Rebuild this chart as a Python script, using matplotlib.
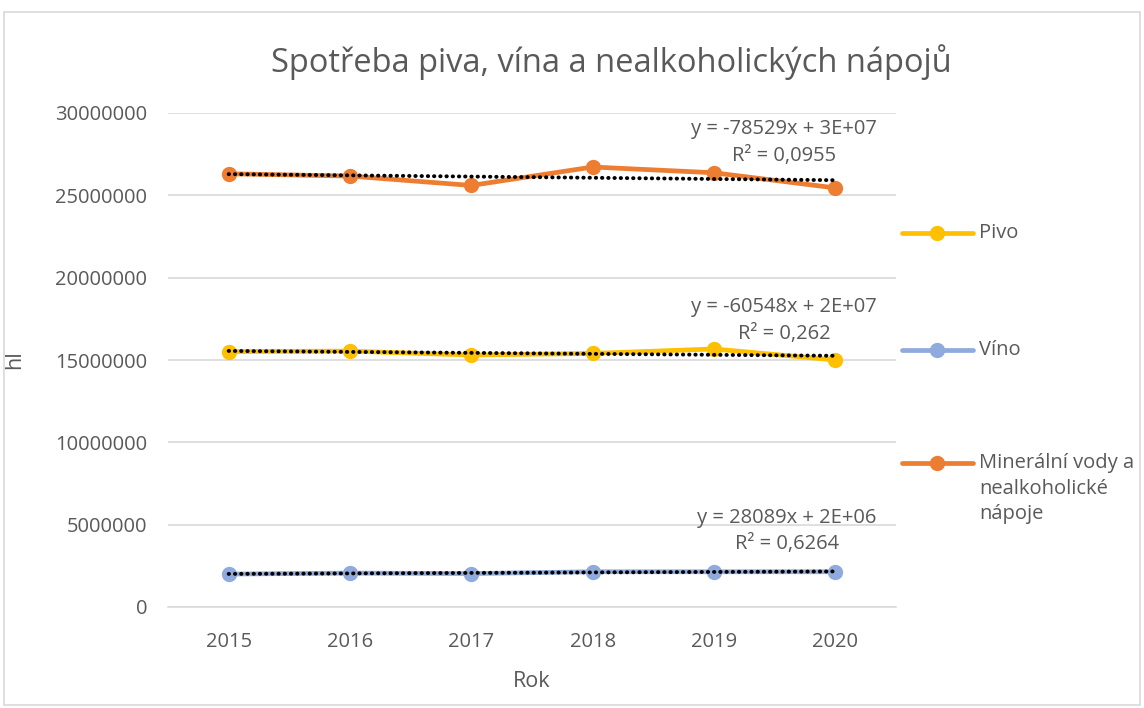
import numpy as np
import matplotlib
matplotlib.use("Agg")
import matplotlib.pyplot as plt
from matplotlib.lines import Line2D
from matplotlib.patches import Rectangle

plt.rcParams['font.family'] = ['Open Sans', 'DejaVu Sans']

# data (hl)
years = ['2015', '2016', '2017', '2018', '2019', '2020']
pivo = [15510000, 15540000, 15300000, 15400000, 15670000, 15000000]
vino = [2000000, 2060000, 2030000, 2140000, 2140000, 2140000]
mineralni = [26310000, 26170000, 25600000, 26720000, 26370000, 25450000]
labels = ['Pivo', 'Víno', 'Minerální vody a\nnealkoholické\nnápoje']
trend_eq = ['y = -60548x + 2E+07', 'y = 28089x + 2E+06', 'y = -78529x + 3E+07']
trend_r2 = ['R² = 0,262', 'R² = 0,6264', 'R² = 0,0955']
colors = ['#FFC000', '#8FAADC', '#ED7D31']
text_c = '#595959'

fig = plt.figure(figsize=(11.44, 7.08), dpi=100)
ax = fig.add_axes([168 / 1144, 1 - 607 / 708, (896 - 168) / 1144, (607 - 113) / 708])

x = np.arange(len(years))
series = [pivo, vino, mineralni]
for vals, col in zip(series, colors):
    ax.plot(x, vals, color=col, lw=3.4, marker='o', ms=10, solid_capstyle='round', zorder=3)

# linear trendlines (x = 1..6 like excel)
for vals in series:
    k, q = np.polyfit(x + 1, vals, 1)
    ax.plot(x, k * (x + 1) + q, color='black', lw=2.8, ls=(0, (0.1, 1.5)),
            dash_capstyle='round', zorder=4)

# trendline labels (two centred lines)
eq_pos = [(15.5e6 + 2.7e6, 15.5e6 + 1.1e6), (2.1e6 + 3.3e6, 2.1e6 + 1.7e6), (26.1e6 + 2.9e6, 26.1e6 + 1.3e6)]
eq_x = [4.58, 4.6, 4.58]
for (y1, y2), ex, eq, r2 in zip(eq_pos, eq_x, trend_eq, trend_r2):
    ax.text(ex, y1, eq, ha='center', va='center', fontsize=14.5, color=text_c)
    ax.text(ex, y2, r2, ha='center', va='center', fontsize=14.5, color=text_c)

ax.set_xlim(-0.5, 5.5)
ax.set_ylim(0, 30000000)
ax.set_yticks(np.arange(0, 30000001, 5000000))
ax.set_yticklabels([str(v) for v in range(0, 30000001, 5000000)])
ax.set_xticks(x)
ax.set_xticklabels(years)
ax.tick_params(length=0, labelsize=14.5, labelcolor=text_c)
ax.tick_params(axis='y', pad=15)
ax.tick_params(axis='x', pad=18)
ax.grid(axis='y', color='#D9D9D9', lw=1.2)
ax.set_axisbelow(True)
for s in ['top', 'right', 'left']:
    ax.spines[s].set_visible(False)
ax.spines['bottom'].set_color('#D9D9D9')
ax.spines['bottom'].set_linewidth(1.2)

ax.set_xlabel('Rok', fontsize=15.5, color=text_c, labelpad=14)
fig.text(15 / 1144, 1 - 360 / 708, 'hl', rotation=90, fontsize=15.5, color=text_c, ha='center', va='center')
fig.text(611 / 1144, 1 - 62 / 708, 'Spotřeba piva, vína a nealkoholických nápojů',
         fontsize=23.5, color=text_c, ha='center', va='center')

# legend on the right
leg_y = [233, 350, 463]
for yy, col, lab in zip(leg_y, colors, labels):
    fy = 1 - yy / 708
    fig.add_artist(Line2D([902 / 1144, 973 / 1144], [fy, fy], color=col, lw=3.4,
                          solid_capstyle='round', transform=fig.transFigure))
    fig.add_artist(Line2D([937 / 1144], [fy], color=col, marker='o', ms=10,
                          transform=fig.transFigure))
    fig.text(979 / 1144, fy + 0.014, lab, fontsize=14.5, color=text_c, ha='left', va='top',
             linespacing=1.38)

fig.add_artist(Rectangle((4 / 1144, 3 / 708), 1136 / 1144, 693 / 708, fill=False,
                         edgecolor='#D9D9D9', lw=1.2, transform=fig.transFigure))

fig.savefig('out.png', dpi=100)
